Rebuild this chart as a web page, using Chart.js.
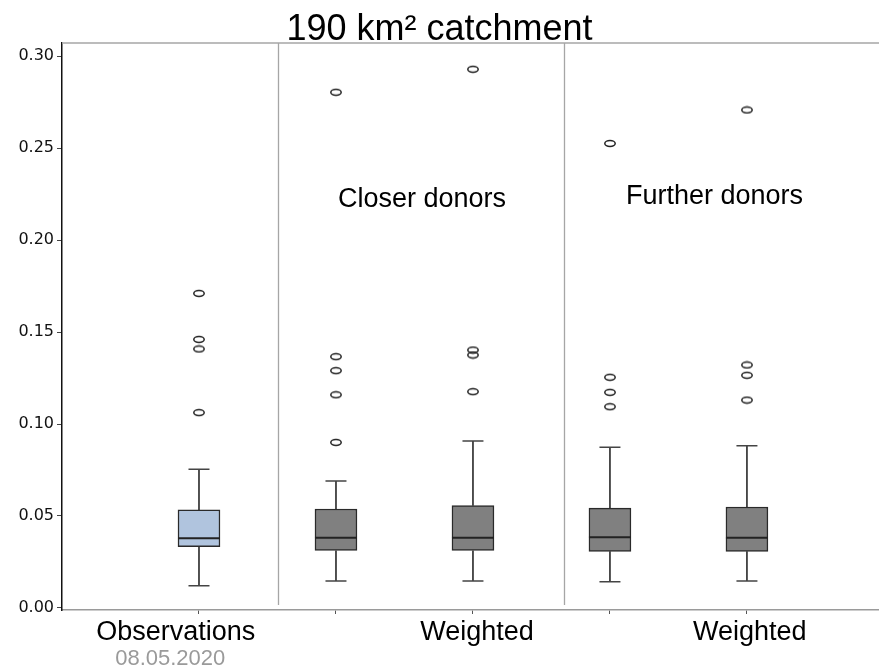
<!DOCTYPE html>
<html>
<head>
<meta charset="utf-8">
<title>190 km² catchment</title>
<script src="https://cdn.jsdelivr.net/npm/chart.js@4.4.1/dist/chart.umd.min.js"></script>
<style>
  html, body { margin: 0; padding: 0; background: #fff; }
  #wrap { width: 879px; height: 668px; }
</style>
</head>
<body>
<div id="wrap"><canvas id="chart"></canvas></div>
<script>
// box plot statistics, one entry per box
const categories   = ['Observations', 'Closer donors', 'Closer donors weighted', 'Further donors', 'Further donors weighted'];
const whiskerLow   = [0.0121, 0.0147, 0.0147, 0.0143, 0.0147];
const q1           = [0.0333, 0.0313, 0.0313, 0.0308, 0.0308];
const median       = [0.0379, 0.0382, 0.0382, 0.0384, 0.0382];
const q3           = [0.0533, 0.0538, 0.0556, 0.0543, 0.0549];
const whiskerHigh  = [0.0754, 0.0690, 0.0908, 0.0873, 0.0882];
const outliers = [
  [0.1062, 0.1408, 0.1460, 0.1710],
  [0.0900, 0.1159, 0.1290, 0.1366, 0.2803],
  [0.1176, 0.1375, 0.1402, 0.2928],
  [0.1094, 0.1172, 0.1254, 0.2525],
  [0.1130, 0.1265, 0.1321, 0.2707]
];
const boxColors = ['#b0c4de', '#808080', '#808080', '#808080', '#808080'];

// axis labels
const yTicks = [0, 0.05, 0.10, 0.15, 0.20, 0.25, 0.30];
const xLabels = ['Observations', 'Weighted', 'Weighted'];
const xLabelAt = [0.83, 3.03, 5.02];
const groupBreaks = [1.577, 3.664];
const groupTitles = [
  { text: 'Closer donors', x: 2.628, y: 0.2180 },
  { text: 'Further donors', x: 4.763, y: 0.2196 }
];
const dateNote = { text: '08.05.2020', x: 0.79 };

const X_MIN = 0, X_MAX = 5.964;
const Y_MIN = -0.0011, Y_MAX = 0.3071;

// hollow ellipse used as outlier marker
function makeEllipse() {
  const c = document.createElement('canvas');
  c.width = 14; c.height = 9;
  const g = c.getContext('2d');
  g.strokeStyle = '#222';
  g.lineWidth = 1.5;
  g.beginPath();
  g.ellipse(7, 4.5, 5.2, 2.9, 0, 0, Math.PI * 2);
  g.stroke();
  return c;
}

const boxData = categories.map(function(c, i) {
  return { x: i + 1, y: [q1[i], q3[i]] };
});
const outlierData = [];
outliers.forEach(function(list, i) {
  list.forEach(function(v) { outlierData.push({ x: i + 1, y: v }); });
});

// keep the horizontal scales on the fixed range and without label padding
function lockX(axis) {
  axis.min = X_MIN;
  axis.max = X_MAX;
}
function noSidePadding(axis) {
  axis.paddingLeft = 0;
  axis.paddingRight = 0;
}

const boxExtras = {
  id: 'boxExtras',
  beforeDatasetsDraw(chart) {
    const ctx = chart.ctx, xs = chart.scales.x, ys = chart.scales.y, area = chart.chartArea;
    ctx.save();
    // frame top + group separators
    ctx.strokeStyle = '#a6a6a6';
    ctx.lineWidth = 1.3;
    ctx.beginPath();
    ctx.moveTo(area.left, area.top);
    ctx.lineTo(area.right, area.top);
    groupBreaks.forEach(function(b) {
      const px = Math.round(xs.getPixelForValue(b)) + 0.5;
      ctx.moveTo(px, area.top);
      ctx.lineTo(px, area.bottom - 5);
    });
    ctx.stroke();

    // whiskers
    ctx.lineWidth = 1.5;
    categories.forEach(function(c, i) {
      const px = xs.getPixelForValue(i + 1);
      const capHalf = 10.5;
      ctx.strokeStyle = '#1a1a1a';
      ctx.beginPath();
      ctx.moveTo(px, ys.getPixelForValue(q3[i]));
      ctx.lineTo(px, ys.getPixelForValue(whiskerHigh[i]));
      ctx.moveTo(px, ys.getPixelForValue(q1[i]));
      ctx.lineTo(px, ys.getPixelForValue(whiskerLow[i]));
      ctx.stroke();
      ctx.strokeStyle = '#444';
      ctx.beginPath();
      ctx.moveTo(px - capHalf, ys.getPixelForValue(whiskerHigh[i]));
      ctx.lineTo(px + capHalf, ys.getPixelForValue(whiskerHigh[i]));
      ctx.moveTo(px - capHalf, ys.getPixelForValue(whiskerLow[i]));
      ctx.lineTo(px + capHalf, ys.getPixelForValue(whiskerLow[i]));
      ctx.stroke();
    });
    ctx.restore();
  },
  afterDatasetsDraw(chart) {
    const ctx = chart.ctx, ys = chart.scales.y, xs = chart.scales.x;
    const bars = chart.getDatasetMeta(0).data;
    ctx.save();
    // medians
    ctx.strokeStyle = '#222';
    ctx.lineWidth = 2;
    bars.forEach(function(bar, i) {
      const py = ys.getPixelForValue(median[i]);
      ctx.beginPath();
      ctx.moveTo(bar.x - bar.width / 2, py);
      ctx.lineTo(bar.x + bar.width / 2, py);
      ctx.stroke();
    });
    // group titles
    ctx.fillStyle = '#000';
    ctx.font = '27px "Liberation Sans", Arial, sans-serif';
    ctx.textAlign = 'center';
    ctx.textBaseline = 'alphabetic';
    groupTitles.forEach(function(t) {
      ctx.fillText(t.text, xs.getPixelForValue(t.x), ys.getPixelForValue(t.y));
    });
    ctx.restore();
  },
  afterDraw(chart) {
    const ctx = chart.ctx, xs = chart.scales.x;
    ctx.save();
    ctx.fillStyle = '#9a9a9a';
    ctx.font = '22px "Liberation Sans", Arial, sans-serif';
    ctx.textAlign = 'center';
    ctx.textBaseline = 'alphabetic';
    ctx.fillText(dateNote.text, xs.getPixelForValue(dateNote.x), chart.height - 3);
    ctx.restore();
  }
};

new Chart(document.getElementById('chart'), {
  type: 'bar',
  data: {
    datasets: [
      {
        type: 'bar',
        data: boxData,
        backgroundColor: boxColors,
        borderColor: '#2a2a2a',
        borderWidth: 1.5,
        borderSkipped: false,
        barThickness: 42,
        xAxisID: 'x',
        yAxisID: 'y',
        order: 2
      },
      {
        type: 'scatter',
        data: outlierData,
        pointStyle: makeEllipse(),
        xAxisID: 'x',
        yAxisID: 'y',
        order: 1
      }
    ]
  },
  options: {
    responsive: true,
    maintainAspectRatio: false,
    animation: false,
    layout: { padding: 0, autoPadding: false },
    plugins: {
      legend: { display: false },
      tooltip: { enabled: false },
      title: {
        display: true,
        text: '190 km² catchment',
        color: '#000',
        font: { family: '"Liberation Sans", Arial, sans-serif', size: 36, weight: 'normal', lineHeight: 1.0 },
        padding: { top: 12, bottom: -5 }
      }
    },
    scales: {
      x: {
        type: 'linear',
        position: 'bottom',
        min: X_MIN,
        max: X_MAX,
        offset: false,
        grid: { drawOnChartArea: false, offset: false, tickLength: 4, color: '#555' },
        border: { color: '#9a9a9a', width: 1.5 },
        ticks: { display: false },
        afterBuildTicks: function(axis) {
          axis.ticks = categories.map(function(c, i) { return { value: i + 1 }; });
          lockX(axis);
        },
        afterFit: function(axis) {
          axis.height = 6;
          noSidePadding(axis);
        }
      },
      xLab: {
        type: 'linear',
        position: 'bottom',
        min: X_MIN,
        max: X_MAX,
        offset: false,
        grid: { display: false, drawTicks: false, offset: false },
        border: { display: false },
        ticks: {
          autoSkip: false,
          maxRotation: 0,
          padding: 0,
          color: '#000',
          font: { family: '"Liberation Sans", Arial, sans-serif', size: 27 },
          callback: function(value, index) { return xLabels[index]; }
        },
        afterBuildTicks: function(axis) {
          axis.ticks = xLabelAt.map(function(v) { return { value: v }; });
          lockX(axis);
        },
        afterFit: function(axis) {
          axis.height = 52;
          noSidePadding(axis);
        }
      },
      y: {
        type: 'linear',
        min: Y_MIN,
        max: Y_MAX,
        grid: { drawOnChartArea: false, tickLength: 5, color: '#444' },
        border: { color: '#111', width: 1.5 },
        ticks: {
          padding: 3,
          color: '#111',
          font: { family: '"DejaVu Sans", Verdana, sans-serif', size: 16 },
          callback: function(value) { return value.toFixed(2); }
        },
        afterBuildTicks: function(axis) {
          axis.ticks = yTicks.map(function(v) { return { value: v }; });
        },
        afterFit: function(axis) { axis.width = 62; }
      }
    }
  },
  plugins: [boxExtras]
});
</script>
</body>
</html>
